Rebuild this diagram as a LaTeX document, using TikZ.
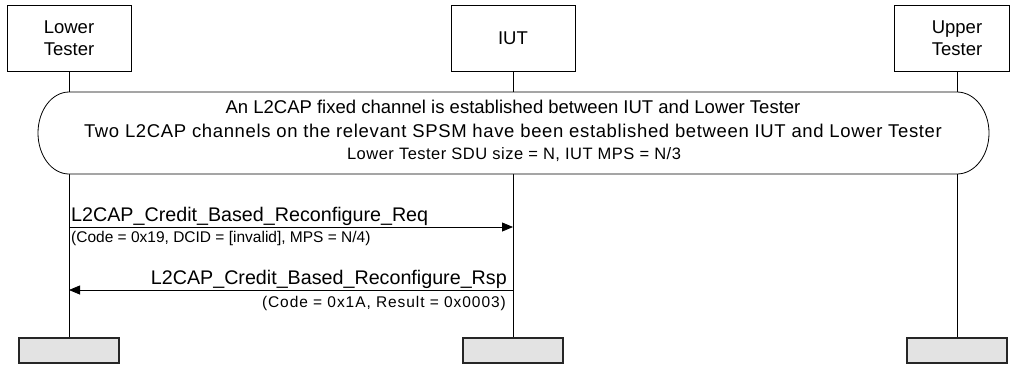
\documentclass[tikz,border=0pt]{standalone}
\usepackage{fontspec}
\setmainfont{Liberation Sans}
\usetikzlibrary{arrows.meta}
\newcommand\spacedout[1]{\addfontfeature{LetterSpace=#1}}
\begin{document}
\begin{tikzpicture}[x=1pt,y=-1pt,
  entity/.style={draw,line width=0.8pt,minimum width=124pt,minimum height=66pt,inner sep=0pt},
  entitytext/.style={align=center,font=\fontsize{18.5}{22.5}\selectfont,inner sep=0pt},
  endbox/.style={draw=black!85,fill=color0,line width=1.1pt,minimum width=100pt,minimum height=25pt,inner sep=0pt},
  msg/.style={font=\fontsize{19.7}{22}\selectfont,inner sep=0pt},
  cond/.style={font=\fontsize{18.5}{22}\selectfont,inner sep=0pt},
  param/.style={font=\fontsize{15.5}{18}\selectfont,inner sep=0pt},
  lifeline/.style={line width=0.8pt},
  arrow/.style={line width=0.8pt,-{Triangle[length=11pt,width=9pt]}}]
\definecolor{color0}{HTML}{E3E3E3}
\useasboundingbox (0,0) rectangle (1010,365);
% participants
\node[entity,entitytext] (lt) at (69,38) {Lower\\Tester};
\node[entity,entitytext] (iut) at (513,38) {IUT};
\node[entity,minimum width=115pt] (utframe) at (951.5,38) {};
\node[entitytext] (ut) at (957,38) {Upper\\Tester};
\node[endbox] (ltend) at (69,350.5) {};
\node[endbox] (iutend) at (513,350.5) {};
\node[endbox] (utend) at (957,350.5) {};
% lifelines
\draw[lifeline] (lt.south) -- (ltend.north);
\draw[lifeline] (iut.south) -- (iutend.north);
\draw[lifeline] (ut |- utframe.south) -- (utend.north);
% preamble condition
\draw[line width=0.8pt,fill=white] (69,92) -- (957,92)
  arc[start angle=90,end angle=-90,x radius=32pt,y radius=41pt] -- (69,174)
  arc[start angle=270,end angle=90,x radius=31pt,y radius=41pt] -- cycle;
\node[cond] (cond1) at (513,107) {An L2CAP fixed channel is established between IUT and Lower Tester};
\node[cond] (cond2) at (513,131) {\spacedout{3.5}Two L2CAP channels on the relevant SPSM have been established between IUT and Lower Tester};
\node[param,font=\fontsize{16.5}{18}\selectfont] (cond3) at (514,155) {\spacedout{3}Lower Tester SDU size = N, IUT MPS = N/3};
% messages
\coordinate (req) at (0,227);
\coordinate (rsp) at (0,290);
\draw[arrow] (lt |- req) -- (iut |- req);
\node[msg,anchor=base west] (reqlbl) at (71,221.5) {L2CAP\_Credit\_Based\_Reconfigure\_Req};
\node[param,anchor=base west] (reqpar) at (71,242) {(Code = 0x19, DCID = [invalid], MPS = N/4)};
\draw[arrow] (iut |- rsp) -- (lt |- rsp);
\node[msg,anchor=base east] (rsplbl) at (507,284) {L2CAP\_Credit\_Based\_Reconfigure\_Rsp};
\node[param,anchor=base east] (rsppar) at (506,307.5) {\spacedout{6}(Code = 0x1A, Result = 0x0003)};
\end{tikzpicture}
\end{document}
